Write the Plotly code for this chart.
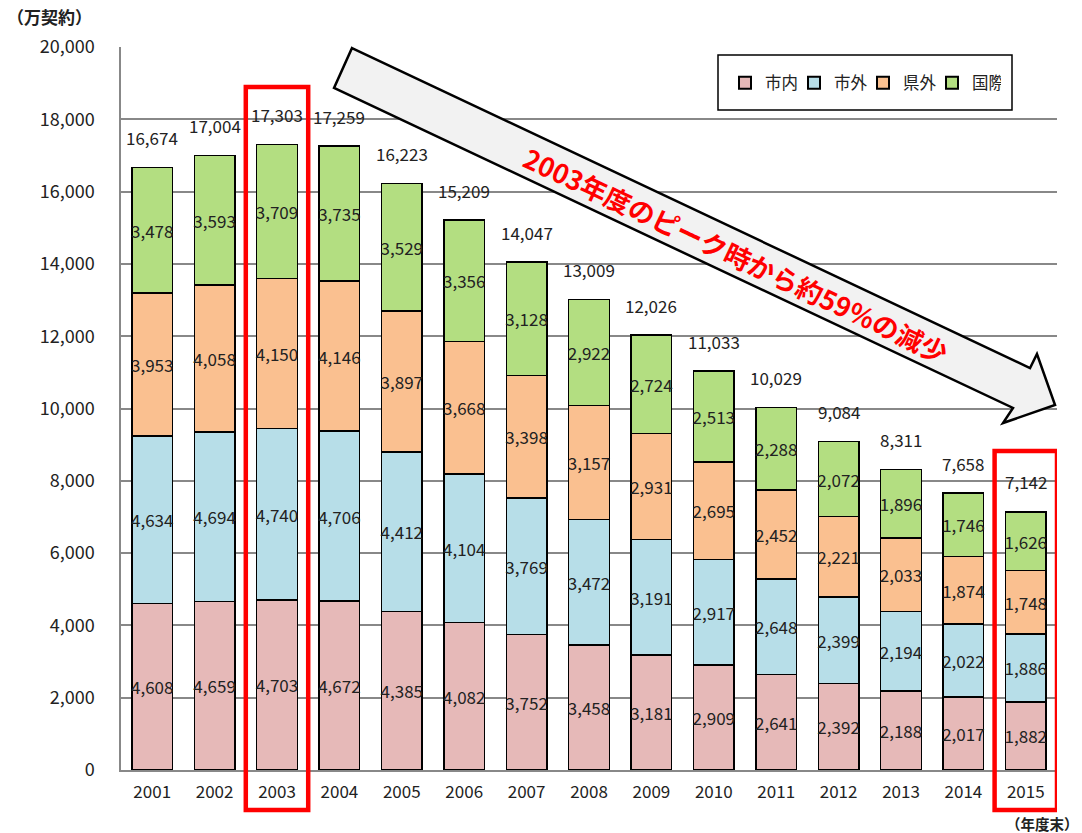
import plotly.graph_objects as go

years = ["2001", "2002", "2003", "2004", "2005", "2006", "2007", "2008",
         "2009", "2010", "2011", "2012", "2013", "2014", "2015"]
shinai = [4608, 4659, 4703, 4672, 4385, 4082, 3752, 3458, 3181, 2909, 2641, 2392, 2188, 2017, 1882]
shigai = [4634, 4694, 4740, 4706, 4412, 4104, 3769, 3472, 3191, 2917, 2648, 2399, 2194, 2022, 1886]
kengai = [3953, 4058, 4150, 4146, 3897, 3668, 3398, 3157, 2931, 2695, 2452, 2221, 2033, 1874, 1748]
kokusai = [3478, 3593, 3709, 3735, 3529, 3356, 3128, 2922, 2724, 2513, 2288, 2072, 1896, 1746, 1626]
totals = [16674, 17004, 17303, 17259, 16223, 15209, 14047, 13009, 12026, 11033, 10029, 9084, 8311, 7658, 7142]

series_names = ["市内", "市外", "県外", "国際"]
series_values = [shinai, shigai, kengai, kokusai]
series_colors = ["#E6B9B8", "#B7DEE8", "#FAC090", "#B3DE81"]

FONT = "Noto Sans CJK JP"
W, H = 1082, 833
L, R, T, B = 121, 25, 47, 63
PW, PH = W - L - R, H - T - B


def px(x, y):
    return (x - L) / PW, (H - B - y) / PH


fig = go.Figure()
for name, vals, col in zip(series_names, series_values, series_colors):
    fig.add_trace(go.Bar(
        x=years, y=vals, name=name,
        marker=dict(color=col, line=dict(color="#000000", width=1.5)),
        texttemplate="%{y:,}", textposition="inside", insidetextanchor="middle",
        constraintext="none", textangle=0,
        textfont=dict(family=FONT, size=17, color="#222222"),
    ))

annotations = []
for i, tot in enumerate(totals):
    annotations.append(dict(xref="x", yref="y", x=i, y=tot, text=f"{tot:,}", showarrow=False,
                            yshift=30, font=dict(family=FONT, size=17, color="#222222")))

# arrow shape (decoration, pixel based)
arrow_px = [(352, 48), (1030, 368), (1037, 354), (1055, 405), (1003, 423), (1013, 408), (334, 88)]
pts = [px(x, y) for x, y in arrow_px]
path = "M " + " L ".join(f"{a:.4f},{b:.4f}" for a, b in pts) + " Z"

lb0 = px(718, 110)
lb1 = px(1012, 55)
shapes = [
    dict(type="path", path=path, xref="paper", yref="paper",
         fillcolor="#F2F2F2", line=dict(color="#000000", width=2.5), layer="above"),
    dict(type="rect", xref="x", yref="paper", x0=1.5, x1=2.5,
         y0=px(0, 810)[1], y1=px(0, 87)[1],
         line=dict(color="#FF0000", width=4.5), layer="above"),
    dict(type="rect", xref="x", yref="paper", x0=13.5, x1=14.5,
         y0=px(0, 810)[1], y1=px(0, 451)[1],
         line=dict(color="#FF0000", width=4.5), layer="above"),
    dict(type="rect", xref="paper", yref="paper", x0=lb0[0], x1=lb1[0], y0=lb0[1], y1=lb1[1],
         fillcolor="white", line=dict(color="#000000", width=1.5), layer="below"),
]

ax, ay = px(736, 254)
annotations.append(dict(xref="paper", yref="paper", x=ax, y=ay, xanchor="center", yanchor="middle",
                        text="2003年度のピーク時から約59％の減少", showarrow=False,
                        textangle=25.3,
                        font=dict(family=FONT, size=26.5, color="#FF0000", weight="bold")))
tx, ty = px(5, 17)
annotations.append(dict(xref="paper", yref="paper", x=tx, y=ty, xanchor="left", yanchor="middle",
                        text="（万契約）", showarrow=False,
                        font=dict(family=FONT, size=17, color="#222222", weight="bold")))
nx, ny = px(1081, 823)
annotations.append(dict(xref="paper", yref="paper", x=nx, y=ny, xanchor="right", yanchor="middle",
                        text="（年度末）", showarrow=False,
                        font=dict(family=FONT, size=14.5, color="#222222", weight="bold")))

lx, ly = px(725, 83)
fig.update_layout(
    width=W, height=H,
    margin=dict(l=L, r=R, t=T, b=B, autoexpand=False),
    barmode="stack", bargap=0.35,
    plot_bgcolor="white", paper_bgcolor="white",
    font=dict(family=FONT, size=16, color="#222222"),
    showlegend=True,
    legend=dict(orientation="h", x=lx, y=ly, xanchor="left", yanchor="middle",
                bgcolor="rgba(0,0,0,0)", borderwidth=0,
                entrywidth=24, font=dict(family=FONT, size=16.5, color="#222222"),
                traceorder="normal", itemsizing="constant", itemwidth=30,
                valign="middle"),
    xaxis=dict(type="category", range=[-0.5, 14.5], showline=True, linecolor="#888888",
               linewidth=1.5, showgrid=False, ticks="", ticklabelstandoff=6,
               automargin=False,
               tickfont=dict(family=FONT, size=17, color="#222222")),
    yaxis=dict(range=[0, 20000], tickvals=list(range(0, 20001, 2000)), tickformat=",",
               showline=True, linecolor="#888888", linewidth=1.5,
               showgrid=True, gridcolor="#888888", gridwidth=1.5, zeroline=False,
               ticks="", ticklabelstandoff=21, automargin=False,
               tickfont=dict(family=FONT, size=18, color="#222222")),
    shapes=shapes, annotations=annotations,
)

fig.write_html("out.html", config={"displayModeBar": False},
               post_script="document.body.style.margin='0px';")
